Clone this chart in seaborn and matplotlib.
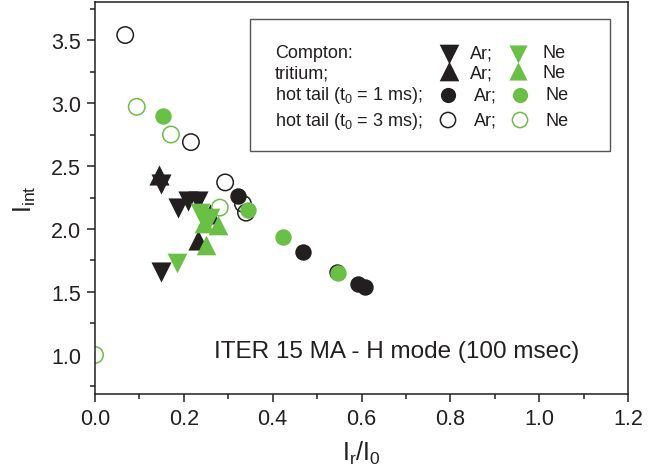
import numpy as np
import pandas as pd
import matplotlib
matplotlib.use("Agg")
import matplotlib.pyplot as plt
import seaborn as sns
from matplotlib.patches import Rectangle

sns.set_theme(style="white")
plt.rcParams['font.family'] = ['Liberation Sans', 'DejaVu Sans']
plt.rcParams['mathtext.fontset'] = 'custom'
plt.rcParams['mathtext.rm'] = 'Liberation Sans'
plt.rcParams['mathtext.it'] = 'Liberation Sans'

BLACK = '#231f20'
GREEN = '#6abf45'

# ---- data (Ir/I0, Iint) ----
compton_ar_x = [0.149, 0.187, 0.210, 0.232, 0.149]
compton_ar_y = [2.36, 2.17, 2.22, 2.22, 1.66]
tritium_ar_x = [0.144, 0.232, 0.258]
tritium_ar_y = [2.43, 1.91, 2.12]
compton_ne_x = [0.184, 0.236, 0.259]
compton_ne_y = [1.73, 2.13, 2.09]
tritium_ne_x = [0.250, 0.277, 0.245]
tritium_ne_y = [1.87, 2.03, 2.05]
hot1_ar_x = [0.322, 0.468, 0.545, 0.592, 0.608]
hot1_ar_y = [2.26, 1.82, 1.66, 1.56, 1.54]
hot1_ne_x = [0.154, 0.345, 0.423, 0.547]
hot1_ne_y = [2.90, 2.15, 1.94, 1.65]
hot3_ar_x = [0.068, 0.216, 0.293, 0.333, 0.340]
hot3_ar_y = [3.54, 2.69, 2.37, 2.20, 2.13]
hot3_ne_x = [0.094, 0.171, 0.281, 0.0]
hot3_ne_y = [2.97, 2.75, 2.17, 1.0]

series = [
    # name, x, y, marker, color, filled, size
    ("Compton Ar", compton_ar_x, compton_ar_y, 'v', BLACK, True, 210),
    ("tritium Ar", tritium_ar_x, tritium_ar_y, '^', BLACK, True, 210),
    ("hot1 Ar", hot1_ar_x, hot1_ar_y, 'o', BLACK, True, 140),
    ("hot3 Ar", hot3_ar_x, hot3_ar_y, 'o', BLACK, False, 140),
    ("Compton Ne", compton_ne_x, compton_ne_y, 'v', GREEN, True, 200),
    ("tritium Ne", tritium_ne_x, tritium_ne_y, '^', GREEN, True, 200),
    ("hot1 Ne", hot1_ne_x, hot1_ne_y, 'o', GREEN, True, 140),
    ("hot3 Ne", hot3_ne_x, hot3_ne_y, 'o', GREEN, False, 140),
]

fig = plt.figure(figsize=(6.7, 4.77), dpi=100)
ax = fig.add_axes([95/670, 1-395/477, 533/670, 391.7/477])

for name, xs, ys, mk, col, filled, s in series:
    df = pd.DataFrame({"x": xs, "y": ys})
    sns.scatterplot(data=df, x="x", y="y", marker=mk, s=s, color=col,
                    edgecolor=col, linewidth=1.1 if not filled else 0,
                    ax=ax, legend=False, zorder=2)
    coll = ax.collections[-1]
    if not filled:
        coll.set_facecolor('none')
        coll.set_edgecolor(col)

ax.set_xlim(0, 1.2)
ax.set_ylim(0.69, 3.8)

# white mask outside the left spine so markers on the edge look clipped
ax.add_patch(Rectangle((-0.03, 0.90), 0.0295, 0.20, facecolor='white',
                       edgecolor='none', clip_on=False, zorder=2.3))

ax.set_xticks(np.arange(0, 1.21, 0.2))
ax.set_xticks(np.arange(0.1, 1.2, 0.2), minor=True)
ax.set_yticks([1.0, 1.5, 2.0, 2.5, 3.0, 3.5])
ax.set_yticks([0.75, 1.25, 1.75, 2.25, 2.75, 3.25, 3.75], minor=True)
ax.xaxis.set_major_formatter(matplotlib.ticker.FormatStrFormatter('%.1f'))
ax.yaxis.set_major_formatter(matplotlib.ticker.FormatStrFormatter('%.1f'))
ax.tick_params(axis='both', which='major', direction='out', length=6, width=1.1,
               labelsize=15.5, colors=BLACK, bottom=True, left=True, pad=4)
ax.tick_params(axis='both', which='minor', direction='out', length=3.5, width=1.1,
               bottom=True, left=True, colors=BLACK)
for sp in ax.spines.values():
    sp.set_color(BLACK)
    sp.set_linewidth(1.1)

ax.set_xlabel(r'$\mathregular{I_r/I_0}$', fontsize=18, color=BLACK, labelpad=7)
ax.set_ylabel(r'$\mathregular{I_{int}}$', fontsize=18, color=BLACK, labelpad=9)

ax.text((397-95)/533, (395-352)/391.7, 'ITER 15 MA - H mode (100 msec)',
        transform=ax.transAxes, ha='center', va='center', fontsize=17.5, color=BLACK)

# ---- manual legend box ----
def fx(px):
    return (px-95)/533
def fy(py):
    return (395-py)/391.7

ax.add_patch(Rectangle((fx(250), fy(152)), fx(610)-fx(250), fy(20)-fy(152),
                       transform=ax.transAxes, facecolor='white',
                       edgecolor='#555555', linewidth=1.0, zorder=4))
rows = [("Compton:", 53.7), ("tritium;", 73.9),
        (r"hot tail (t$\mathregular{_0}$ = 1 ms);", 95.8),
        (r"hot tail (t$\mathregular{_0}$ = 3 ms);", 121)]
for txt, py in rows:
    ax.text(fx(275), fy(py), txt, transform=ax.transAxes, ha='left', va='center',
            fontsize=13, color=BLACK, zorder=5)

leg_marks = [
    (449, 54.5, 'v', BLACK, True, 200), (449, 72, '^', BLACK, True, 200),
    (517.6, 54.5, 'v', GREEN, True, 170), (517.6, 72, '^', GREEN, True, 170),
    (448, 95.8, 'o', BLACK, True, 120), (520, 95.8, 'o', GREEN, True, 120),
    (448, 121, 'o', BLACK, False, 120), (520, 121, 'o', GREEN, False, 120),
]
for px, py, mk, col, filled, s in leg_marks:
    ax.scatter([fx(px)], [fy(py)], marker=mk, s=s, transform=ax.transAxes,
               facecolor=col if filled else 'none', edgecolor=col,
               linewidth=0 if filled else 1.1, zorder=5, clip_on=False)

for py, xa, xn in [(53.7, 470, 542), (73.9, 470, 542), (95.8, 474, 545.6), (121, 474, 545.6)]:
    ax.text(fx(xa), fy(py), 'Ar;', transform=ax.transAxes, ha='left', va='center',
            fontsize=13, color=BLACK, zorder=5)
    ax.text(fx(xn), fy(py), 'Ne', transform=ax.transAxes, ha='left', va='center',
            fontsize=13, color=BLACK, zorder=5)

fig.savefig('out.png', dpi=100)
